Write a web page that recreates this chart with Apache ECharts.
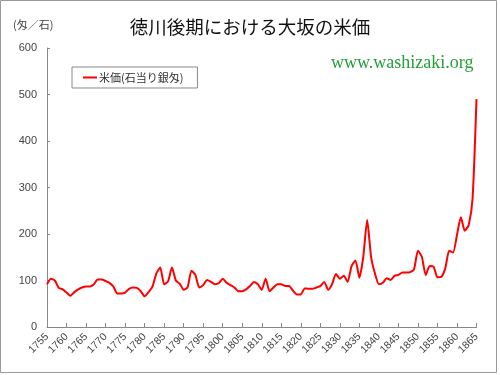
<!DOCTYPE html>
<html><head><meta charset="utf-8">
<script src="https://cdn.jsdelivr.net/npm/echarts@6/dist/echarts.min.js"></script>
<style>html,body{margin:0;padding:0;background:#fff;}#c{width:500px;height:375px;}</style>
</head><body><div id="c"></div>
<script>
const years = [];
for (let y = 1755; y <= 1865; y++) years.push(String(y));
const ricePrice = [
  92,104,100,84,81,74,67,75,81,85,
  87,87,92,102,102,99,95,87,72,72,
  74,82,85,84,77,66,75,87,115,128,
  92,98,128,100,93,80,85,121,112,85,
  90,101,97,92,94,104,95,90,85,77,
  77,81,88,97,92,80,104,77,85,92,
  92,88,88,78,70,70,83,82,82,85,
  88,97,80,92,114,104,110,97,131,143,
  106,151,230,151,115,92,95,105,101,110,
  112,117,117,118,124,164,151,112,131,130,
  107,108,126,164,160,198,236,207,219,277,
  490
];
const yTicks = [0, 600, 100];
const titleText = '徳川後期における大坂の米価';
const unitText = '(匁／石)';
const seriesName = '米価(石当り銀匁)';
const siteText = 'www.washizaki.org';

const chart = echarts.init(document.getElementById('c'), null, {renderer: 'canvas'});
chart.setOption({
  backgroundColor: '#fff',
  animation: false,
  title: {
    text: titleText, left: 'center', top: 13,
    textStyle: {fontSize: 18.5, fontWeight: 'normal', color: '#111', fontFamily: 'Noto Sans CJK JP'}
  },
  graphic: [
    {type: 'rect', shape: {x: 0.5, y: 0.5, width: 496, height: 372}, style: {fill: 'none', stroke: '#999', lineWidth: 1}},
    {type: 'text', left: 13, top: 19, style: {text: unitText, fontSize: 11, fill: '#444', fontFamily: 'Noto Sans CJK JP'}},
    {type: 'text', left: 331, top: 54, style: {text: siteText, fontSize: 18, fill: '#23a03a', fontFamily: 'Liberation Serif'}}
  ],
  legend: {
    left: 72, top: 67, orient: 'vertical',
    padding: [5, 14, 5, 11],
    borderColor: '#888', borderWidth: 1,
    icon: 'rect', itemWidth: 14, itemHeight: 2, itemGap: 2,
    textStyle: {fontSize: 11, color: '#333', fontFamily: 'Noto Sans CJK JP', padding: [0,0,0,-3]},
    data: [seriesName]
  },
  grid: {left: 47, right: 23.5, top: 48, bottom: 48, containLabel: false},
  xAxis: {
    type: 'category', data: years, boundaryGap: false,
    axisLine: {lineStyle: {color: '#888', width: 1}},
    axisTick: {inside: true, length: 4, interval: 4, lineStyle: {color: '#888'}},
    axisLabel: {interval: 4, rotate: 45, fontSize: 10.5, color: '#444', margin: 8, fontFamily: 'Liberation Sans'},
    splitLine: {show: false}
  },
  yAxis: {
    type: 'value', min: yTicks[0], max: yTicks[1], interval: yTicks[2],
    axisLine: {show: true, lineStyle: {color: '#888', width: 1}},
    axisTick: {show: true, inside: true, length: 3, lineStyle: {color: '#888'}},
    axisLabel: {fontSize: 11, color: '#444', margin: 10, fontFamily: 'Liberation Sans'},
    splitLine: {show: false}
  },
  series: [{
    name: seriesName, type: 'line', data: ricePrice,
    showSymbol: false, smooth: 0.2,
    lineStyle: {color: '#ff0000', width: 2},
    itemStyle: {color: '#ff0000'}
  }]
});
</script></body></html>
